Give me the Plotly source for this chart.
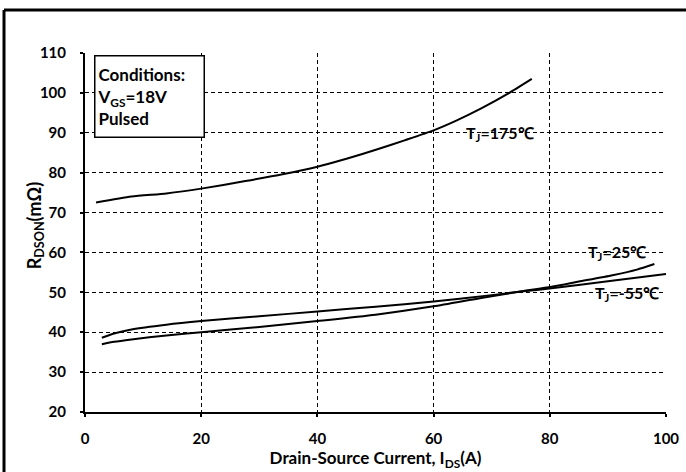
import plotly.graph_objects as go

# Data
i_175 = [1.9, 8, 14, 20, 27.6, 34, 40, 45, 50.2, 55, 60, 64, 68.2, 72.8, 76.9]
r_175 = [72.5, 74.0, 74.8, 76.0, 77.9, 79.6, 81.5, 83.5, 85.8, 88.1, 90.6, 93.1, 96.1, 99.8, 103.5]

i_25 = [2.9, 5, 8, 14, 20, 30, 40, 50, 60, 68.2, 75, 80.3, 85, 90.8, 95, 98]
r_25 = [37.0, 37.6, 38.2, 39.2, 40.0, 41.3, 42.8, 44.4, 46.5, 48.6, 50.2, 51.4, 52.7, 54.3, 55.7, 57.1]

i_m55 = [2.9, 5, 8, 14, 20, 30, 40, 50, 60, 70, 75, 80.3, 90, 100]
r_m55 = [38.6, 39.7, 40.7, 41.9, 42.8, 44.0, 45.2, 46.4, 47.7, 49.3, 50.2, 51.0, 52.8, 54.6]

x_ticks = [0, 20, 40, 60, 80, 100]
y_ticks = [20, 30, 40, 50, 60, 70, 80, 90, 100, 110]

FONT = "Lato"

fig = go.Figure()
for xs, ys, name in [(i_175, r_175, "175"), (i_25, r_25, "25"), (i_m55, r_m55, "-55")]:
    fig.add_trace(go.Scatter(x=xs, y=ys, mode="lines", name=name,
                             line=dict(color="black", width=2, shape="spline", smoothing=0.6),
                             showlegend=False, hoverinfo="skip"))

axis_common = dict(
    showline=True, linecolor="black", linewidth=2, mirror=False,
    showgrid=True, gridcolor="black", gridwidth=1, griddash="4px,3px",
    ticks="outside", ticklen=3, tickcolor="black", tickwidth=2,
    tickfont=dict(family=FONT, size=15, color="black", weight="bold"),
    zeroline=False, automargin=False,
)

fig.update_xaxes(range=[0, 100], tickvals=x_ticks, ticktext=[str(v) for v in x_ticks],
                 ticklabelstandoff=9,
                 title=dict(text="Drain-Source Current, I<sub>DS</sub>(A)",
                            font=dict(family=FONT, size=17, color="black", weight="bold"),
                            standoff=6),
                 **axis_common)
fig.update_yaxes(range=[20, 110], tickvals=y_ticks, ticktext=[str(v) for v in y_ticks],
                 ticklabelstandoff=11, **axis_common)

# y-axis title placed as rotated text
fig.add_annotation(xref="paper", yref="paper", x=-0.086, y=0.52, textangle=-90,
                   xanchor="center", yanchor="middle",
                   text="R<sub>DSON</sub>(mΩ)", showarrow=False,
                   font=dict(family=FONT, size=18, color="black", weight="bold"))

lab_font = dict(family=FONT, size=16, color="black", weight="bold")
fig.add_annotation(x=71.4, y=89.8, text="T<sub>J</sub>=175℃", showarrow=False, font=lab_font)
fig.add_annotation(x=91.6, y=60.0, text="T<sub>J</sub>=25℃", showarrow=False, font=lab_font)
fig.add_annotation(x=93.3, y=49.6, text="T<sub>J</sub>=-55℃", showarrow=False, font=lab_font)

fig.add_annotation(xref="paper", yref="paper", x=0.0155, y=0.994, xanchor="left", yanchor="top",
                   text="Conditions:<br>V<sub>GS</sub>=18V<br>Pulsed", showarrow=False,
                   align="left", valign="middle", width=104, height=76,
                   bordercolor="black", borderwidth=1.5, borderpad=2, bgcolor="white",
                   font=dict(family=FONT, size=17, color="black", weight="bold"))

# outer frame (left and top edges visible)
fig.add_shape(type="line", xref="paper", yref="paper", x0=-0.1394, x1=1.2, y0=1.1198, y1=1.1198,
              line=dict(color="black", width=3))
fig.add_shape(type="line", xref="paper", yref="paper", x0=-0.1394, x1=-0.1394, y0=-0.3, y1=1.1198,
              line=dict(color="black", width=3))

fig.update_layout(width=686, height=472, margin=dict(l=85, r=20, t=53, b=60),
                  paper_bgcolor="white", plot_bgcolor="white",
                  font=dict(family=FONT, color="black"))

fig.write_html("out.html", config={"displayModeBar": False},
               post_script="document.body.style.margin='0';document.body.style.overflow='hidden';")
